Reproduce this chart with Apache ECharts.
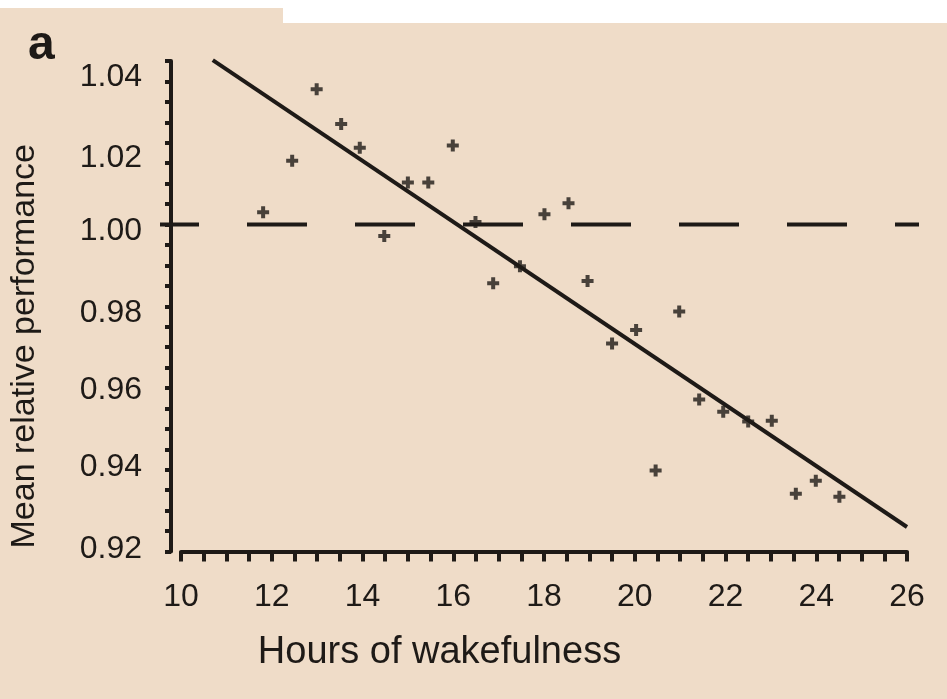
<!DOCTYPE html>
<html>
<head>
<meta charset="utf-8">
<title>Mean relative performance vs hours of wakefulness</title>
<script src="https://cdn.jsdelivr.net/npm/echarts@6/dist/echarts.min.js"></script>
<style>
  html, body { margin: 0; padding: 0; background: #fff; }
  #chart { width: 947px; height: 699px; }
</style>
</head>
<body>
<div id="chart"></div>
<script>
// observed points
var hours = [11.81, 12.45, 12.99, 13.53, 13.94, 14.48, 15.00, 15.45, 15.99, 16.49,
             16.88, 17.47, 18.01, 18.54, 18.96, 19.50, 20.03, 20.46, 20.98, 21.42,
             21.95, 22.50, 23.02, 23.55, 23.99, 24.51];
var performance = [1.0030, 1.0156, 1.0331, 1.0246, 1.0188, 0.9972, 1.0103, 1.0103, 1.0193, 1.0006,
                   0.9856, 0.9898, 1.0025, 1.0052, 0.9862, 0.9709, 0.9742, 0.9398, 0.9787, 0.9572,
                   0.9542, 0.9518, 0.9520, 0.9341, 0.9373, 0.9334];

// fitted line end points
var fitHours = [10.7, 26.0];
var fitPerformance = [1.0402, 0.926];

// dashed reference level (runs a little past both axes)
var refHours = [9.54, 26.26];
var refLevel = [1.0, 1.0];

var xTickLabels = [10, 12, 14, 16, 18, 20, 22, 24, 26];
var yTickLabels = ['1.04', '1.02', '1.00', '0.98', '0.96', '0.94', '0.92'];

var ink = '#1e1a17';
var font = '"Liberation Sans", Arial, sans-serif';

function zip(a, b) {
  return a.map(function (v, i) { return [v, b[i]]; });
}

// the printed y labels sit slightly below their ticks, more so near the top
var yLabelNudge = [16, 15.5, 7, 6.5, 2, -3, -2];
var yRich = {};
yLabelNudge.forEach(function (d, i) {
  yRich['n' + i] = {
    fontSize: 32,
    fontFamily: font,
    color: ink,
    padding: d >= 0 ? [2 * d, 0, 0, 0] : [0, 0, -2 * d, 0]
  };
});

var chart = echarts.init(document.getElementById('chart'), null, { renderer: 'canvas' });

var option = {
  animation: false,
  backgroundColor: '#efdcc8',
  title: {
    text: 'a',
    left: 23,
    top: 17,
    textStyle: { fontSize: 48, fontWeight: 'bold', fontFamily: font, color: ink }
  },
  graphic: [
    { type: 'rect', shape: { x: 0, y: 0, width: 947, height: 8 }, style: { fill: '#ffffff' } },
    { type: 'rect', shape: { x: 283, y: 0, width: 664, height: 23 }, style: { fill: '#ffffff' } }
  ],
  grid: [
    { left: 181, right: 40, top: 61, bottom: 147.5 },
    // wider, invisible frame so the dashed level can run past the axes
    { left: 160, right: 28, top: 61, bottom: 147.5 }
  ],
  xAxis: [{
    type: 'value',
    min: 10,
    max: 26,
    interval: 0.5,
    name: 'Hours of wakefulness',
    nameLocation: 'middle',
    nameGap: 82,
    nameTextStyle: { fontSize: 38, fontFamily: font, color: ink, padding: [0, 209, 0, 0] },
    axisLine: { lineStyle: { color: ink, width: 4 } },
    axisTick: { length: 10, lineStyle: { color: ink, width: 4 } },
    axisLabel: {
      margin: 30,
      fontSize: 32,
      fontFamily: font,
      color: ink,
      formatter: function (v) {
        return xTickLabels.indexOf(v) >= 0 ? String(v) : '';
      }
    },
    splitLine: { show: false }
  }, {
    type: 'value',
    gridIndex: 1,
    min: refHours[0],
    max: refHours[1],
    show: false
  }],
  yAxis: [{
    type: 'value',
    min: 0.92,
    max: 1.04,
    interval: 0.005,
    offset: 10,
    name: 'Mean relative performance',
    nameLocation: 'middle',
    nameGap: 129,
    nameTextStyle: { fontSize: 34, fontFamily: font, color: ink, padding: [0, 80, 0, 0] },
    axisLine: { show: true, lineStyle: { color: ink, width: 4 } },
    axisTick: { show: true, length: 6, lineStyle: { color: ink, width: 4 } },
    axisLabel: {
      margin: 29,
      rich: yRich,
      formatter: function (v) {
        if (Math.abs(v * 50 - Math.round(v * 50)) > 1e-6) return '';
        var s = v.toFixed(2);
        var i = yTickLabels.indexOf(s);
        return i < 0 ? '' : '{n' + i + '|' + s + '}';
      }
    },
    splitLine: { show: false }
  }, {
    type: 'value',
    gridIndex: 1,
    min: 0.92,
    max: 1.04,
    show: false
  }],
  series: [
    {
      name: 'reference',
      type: 'line',
      xAxisIndex: 1,
      yAxisIndex: 1,
      data: zip(refHours, refLevel),
      symbol: 'none',
      silent: true,
      lineStyle: { color: ink, width: 4, type: [60, 48], dashOffset: 21 },
      z: 3
    },
    {
      name: 'fit',
      type: 'line',
      data: zip(fitHours, fitPerformance),
      symbol: 'none',
      clip: false,
      silent: true,
      lineStyle: { color: ink, width: 4 },
      z: 4
    },
    {
      name: 'observed',
      type: 'scatter',
      data: zip(hours, performance),
      symbol: 'path://M2,0H4V2H6V4H4V6H2V4H0V2H2Z',
      symbolSize: 12,
      itemStyle: { color: ink },
      z: 5
    }
  ]
};

chart.setOption(option);
</script>
</body>
</html>
